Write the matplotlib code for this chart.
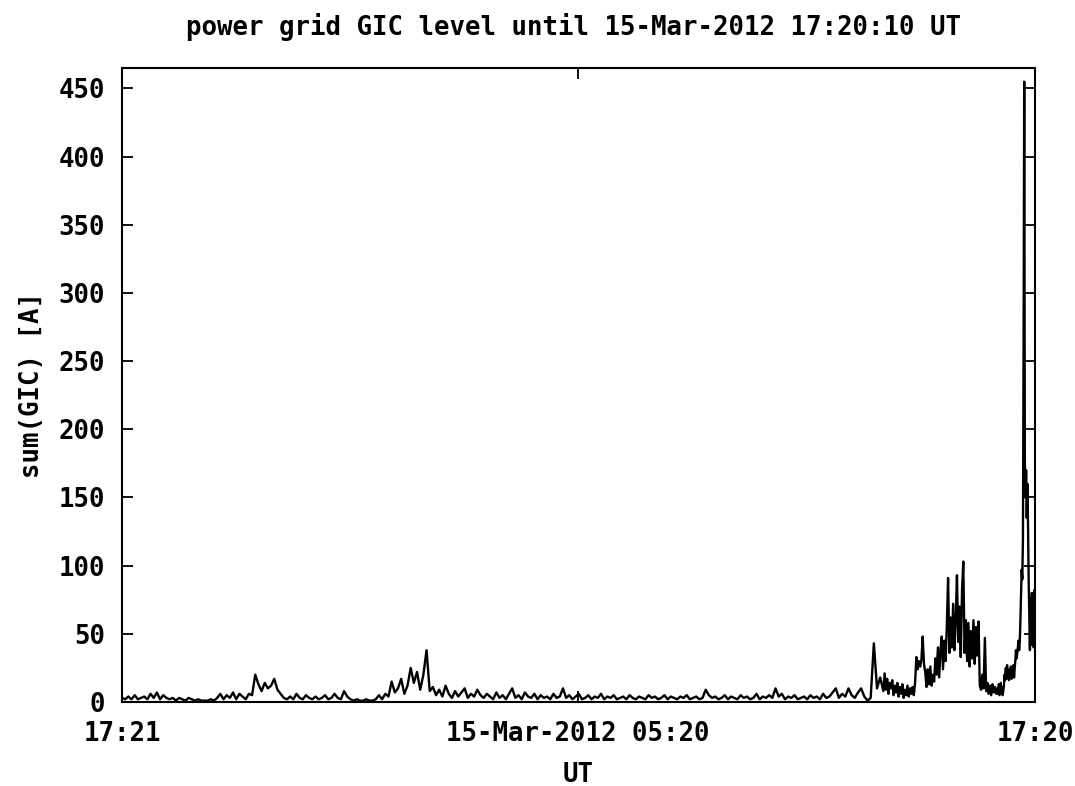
import numpy as np
import matplotlib
matplotlib.use("Agg")
import matplotlib.pyplot as plt

# sum(GIC) [A], 5-minute values from 14-Mar-2012 17:21 UT, one row per hour
gic_5min = [
    3, 2, 4, 2, 5, 2, 3, 4, 2, 6, 3, 7,
    2, 5, 3, 2, 3, 1, 3, 2, 1, 3, 2, 1,
    2, 1, 1, 1, 2, 1, 3, 6, 2, 5, 3, 7,
    2, 6, 4, 2, 6, 5, 20, 13, 8, 14, 10, 12,
    17, 9, 6, 3, 2, 4, 2, 6, 3, 2, 5, 3,
    2, 4, 2, 3, 5, 2, 3, 6, 3, 2, 8, 4,
    2, 1, 2, 1, 1, 2, 1, 1, 2, 5, 2, 6,
    4, 15, 7, 10, 17, 6, 12, 25, 14, 22, 9, 20,
    38, 8, 11, 5, 9, 4, 12, 6, 3, 8, 4, 7,
    10, 3, 6, 4, 9, 5, 3, 6, 4, 2, 7, 3,
    5, 2, 6, 10, 3, 5, 2, 7, 4, 3, 6, 2,
    5, 3, 4, 2, 6, 3, 4, 10, 3, 5, 2, 4,
    6, 2, 3, 5, 2, 4, 3, 6, 2, 4, 3, 5,
    2, 3, 4, 2, 5, 3, 2, 4, 3, 2, 5, 3,
    4, 2, 3, 5, 2, 4, 3, 2, 4, 3, 5, 2,
    3, 4, 2, 3, 9, 5, 3, 4, 2, 3, 5, 2,
    4, 3, 2, 5, 3, 4, 2, 3, 6, 2, 4, 3,
    5, 3, 10, 4, 6, 2, 4, 3, 5, 2, 3, 4,
    2, 5, 3, 4, 2, 6, 3, 4, 7, 10, 3, 6,
    4, 10, 5, 3, 7, 10, 4, 1, 3, 43, 10, 18,
]

# 2-minute values, 13:21 - 16:19 UT (one row per hour)
gic_2min = [
    8, 21, 9, 17, 6, 14, 10, 16, 5, 12, 7, 14, 4, 11, 6,
    13, 3, 9, 5, 12, 4, 10, 6, 11, 5, 14, 33, 24, 30, 26,
    31, 48, 28, 22, 11, 24, 13, 26, 12, 20, 15, 32, 20, 40, 18,
    38, 48, 24, 45, 30, 55, 91, 36, 62, 40, 72, 38, 60, 93, 44,
    70, 33, 82, 103, 36, 60, 30, 58, 26, 52, 32, 60, 28, 55, 34,
    59, 12, 9, 20, 10, 47, 8, 14, 6, 12, 5, 13, 7, 11, 6,
]

# last hour at 1-minute resolution (16:21 - 17:20 UT)
gic_1min = [
    10, 6, 13, 5, 9, 14, 6, 11, 5, 8,
    12, 20, 16, 25, 17, 27, 18, 22, 16, 24,
    19, 26, 17, 23, 20, 27, 18, 25, 30, 38,
    32, 36, 40, 45, 38, 44, 60, 80, 97, 90,
    120, 260, 455, 177, 150, 170, 135, 160, 130, 90,
    62, 38, 75, 42, 80, 50, 70, 40, 82, 60,
]

x_ticks = [0, 719, 1439]
x_labels = ["17:21", "15-Mar-2012 05:20", "17:20"]
y_ticks = list(range(0, 451, 50))

t5 = np.arange(len(gic_5min)) * 5
t2 = t5[-1] + 5 + np.arange(len(gic_2min)) * 2
t1 = t2[-1] + 2 + np.arange(len(gic_1min))
t = np.concatenate([t5, t2, t1])
gic = np.array(gic_5min + gic_2min + gic_1min, dtype=float)

plt.rcParams["font.family"] = "DejaVu Sans Mono"
plt.rcParams["font.weight"] = "bold"
plt.rcParams["font.size"] = 18.5

fig = plt.figure(figsize=(10.75, 7.86), dpi=100)
ax = fig.add_axes([122 / 1075, 1 - 702 / 786, 913 / 1075, 634 / 786])

ax.plot(t, gic, color="black", lw=1.7)

ax.set_xlim(0, 1439)
ax.set_ylim(0, 465)
ax.set_xticks(x_ticks)
ax.set_xticklabels(x_labels)
ax.set_yticks(y_ticks)
ax.tick_params(direction="in", length=8, width=1.3, top=True, right=True,
               color="black")
ax.tick_params(axis="x", pad=14)
ax.tick_params(axis="y", pad=12)
for s in ax.spines.values():
    s.set_linewidth(1.5)

fig.text(574 / 1075, 1 - 27 / 786, "power grid GIC level until 15-Mar-2012 17:20:10 UT",
         ha="center", va="center", fontweight="bold")
fig.text(578 / 1075, 1 - 775 / 786, "UT", ha="center", va="center", fontweight="bold")
fig.text(32 / 1075, 1 - 385 / 786, "sum(GIC) [A]", ha="center", va="center",
         rotation=90, fontweight="bold")

fig.savefig("out.png", dpi=100)
